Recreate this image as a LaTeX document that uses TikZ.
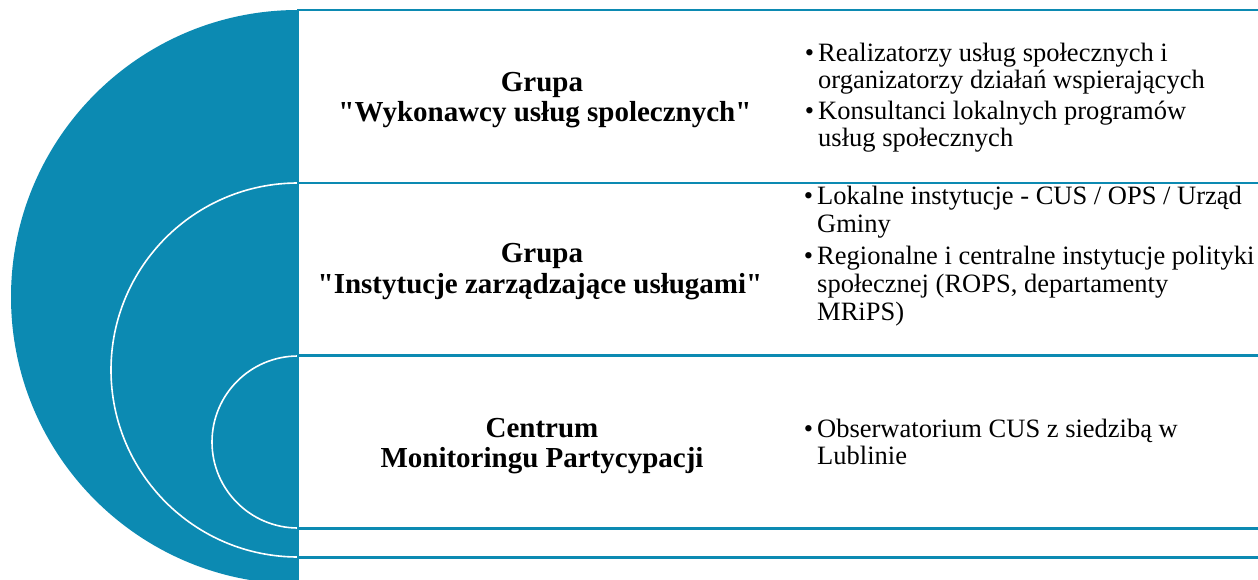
\documentclass[tikz,border=0pt]{standalone}
\usepackage{fontspec}
\setmainfont{Liberation Serif}[Ligatures=TeXOff]
\definecolor{seablue}{RGB}{12,138,178}
\tikzset{
  panel/.style={draw=seablue, fill=white, line width=2.4pt, inner sep=0pt,
    outer sep=0pt, minimum width=980pt, anchor=north west},
  ring/.style={draw=white, line width=1.6pt},
  heading/.style={font=\fontsize{29}{30}\selectfont\bfseries, inner sep=0pt, anchor=base},
  entry/.style={font=\fontsize{26.5}{27.5}\selectfont, inner sep=0pt, anchor=base west},
  dot/.style={font=\fontsize{26.5}{27.5}\selectfont, inner sep=0pt, anchor=base}
}
\begin{document}
\begin{tikzpicture}[x=1pt, y=-1pt]
\useasboundingbox (0,0) rectangle (1258,580);
\begin{scope}
\clip (0,0) rectangle (1258,580);
% large disc with two inner rings
\fill[seablue] (298,297) circle[radius=287];
\draw[ring] (298,370) circle[radius=187];
\draw[ring] (298,442) circle[radius=86];
\fill[white] (296.6,0) rectangle (1270,600);
% stacked panels on the right
\node[panel, minimum height=173pt]   (b1) at (298,10) {};
\node[panel, minimum height=172.5pt] (b2) at (298,183) {};
\node[panel, minimum height=173pt]   (b3) at (298,355.5) {};
\node[panel, minimum height=29pt]    (b4) at (298,528.5) {};
\node[panel, minimum height=50pt]    (b5) at (298,557.5) {};
\end{scope}

% headings
\node[heading] (h1a) at (542,92) {Grupa};
\node[heading] (h1b) at (545,122) {"Wykonawcy usług spolecznych"};
\node[heading] (h2a) at (542,262) {Grupa};
\node[heading] (h2b) at (540,293) {"Instytucje zarządzające usługami"};
\node[heading] (h3a) at (542,437) {Centrum};
\node[heading] (h3b) at (542,467) {Monitoringu Partycypacji};

% first panel list
\node[dot]   (d1) at (809.5,62) {•};
\node[entry] (e1a) at (818,62)  {Realizatorzy usług społecznych i};
\node[entry] (e1b) at (818,89)  {organizatorzy działań wspierających};
\node[dot]   (d2) at (809.5,119.5) {•};
\node[entry] (e2a) at (818,119.5) {Konsultanci lokalnych programów};
\node[entry] (e2b) at (818,147) {usług społecznych};

% second panel list
\node[dot]   (d3) at (808.5,205) {•};
\node[entry] (e3a) at (817,205) {Lokalne instytucje - CUS / OPS / Urząd};
\node[entry] (e3b) at (817,233) {Gminy};
\node[dot]   (d4) at (808.5,264) {•};
\node[entry] (e4a) at (817,264) {Regionalne i centralne instytucje polityki};
\node[entry] (e4b) at (817,292) {społecznej (ROPS, departamenty};
\node[entry] (e4c) at (817,320) {MRiPS)};

% third panel list
\node[dot]   (d5) at (808.5,437) {•};
\node[entry] (e5a) at (817,437) {Obserwatorium CUS z siedzibą w};
\node[entry] (e5b) at (817,464) {Lublinie};
\end{tikzpicture}
\end{document}
